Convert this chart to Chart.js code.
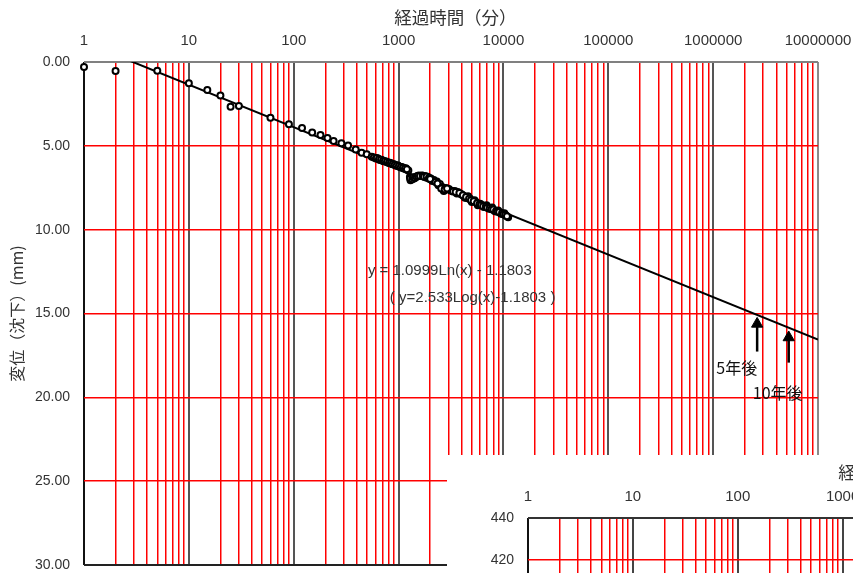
<!DOCTYPE html>
<html>
<head>
<meta charset="utf-8">
<script src="https://cdn.jsdelivr.net/npm/chart.js@4"></script>
<style>
  body { margin: 0; overflow: hidden; background: #fff; }
  #wrap { position: relative; width: 853px; height: 573px; overflow: hidden; }
  #main { position: absolute; left: 0; top: 0; }
  #insetBox { position: absolute; left: 447px; top: 455px; width: 850px; height: 365px; background: #fff; }
</style>
</head>
<body>
<div id="wrap">
  <canvas id="main" width="853" height="573"></canvas>
  <div id="insetBox"><canvas id="inset" width="850" height="365"></canvas></div>
</div>
<script>
// decade labels on the log time axis (minutes)
const decadeValues = [1, 10, 100, 1000, 10000, 100000, 1000000, 10000000];
const decadeLabels = ['1', '10', '100', '1000', '10000', '100000', '1000000', '10000000'];

// measured settlement: elapsed time (min) and displacement (mm)
const elapsedMin = [
  1, 2, 5, 10, 15, 20, 25, 30, 60, 90,
  120, 150, 180, 210, 240, 285, 330, 390, 444, 497, 555,
  581, 608, 635, 663, 693, 724, 757, 791, 826, 863, 902, 942, 985, 1029, 1075, 1124, 1174,
  1240,
  1282, 1300, 1330, 1368, 1400, 1461, 1500, 1562, 1668, 1782, 1903, 2032, 2100, 2172, 2318, 2400,
  2477, 2600, 2645, 2700, 2825, 3017, 3100, 3222, 3441, 3600, 3675, 3925, 4000, 4191, 4300, 4477,
  4600, 4782, 5000, 5106, 5300, 5454, 5700, 5824, 6000, 6220, 6500, 6643, 6900, 7094, 7300, 7577,
  7800, 8092, 8300, 8642, 8900, 9230, 9500, 9857, 10200, 10527, 11100,
  620, 650, 680, 710, 740, 775, 810, 845, 880, 920, 960, 1005, 1050, 1100, 1150, 1200,
  1290, 1350, 1380, 1430, 1480, 1530, 1600, 1700, 1750, 1850, 1950, 2000, 2250, 2350, 2550, 2750,
  2900, 3300, 3500, 3800, 4100, 4400, 4700, 4900, 5200, 5600, 5900, 6100, 6400, 6800, 7000, 7400,
  7700, 8000, 8500, 8800, 9100, 9700, 10000, 10400, 10800
];
const settlementMm = [
  0.30, 0.54, 0.52, 1.27, 1.67, 2.00, 2.67, 2.62, 3.32, 3.72,
  3.94, 4.20, 4.35, 4.53, 4.71, 4.85, 4.98, 5.22, 5.41, 5.50, 5.65,
  5.69, 5.76, 5.75, 5.84, 5.85, 5.92, 5.93, 6.00, 6.01, 6.09, 6.10, 6.17, 6.18, 6.25, 6.26, 6.33, 6.34,
  6.47,
  6.86, 7.05, 6.90, 6.95, 6.95, 6.86, 6.82, 6.77, 6.77, 6.80, 6.86, 6.95, 7.10, 7.04, 7.13, 7.35,
  7.27, 7.45, 7.57, 7.70, 7.51, 7.57, 7.65, 7.69, 7.69, 7.85, 7.75, 7.87, 7.90, 7.99, 8.10, 8.11,
  8.00, 8.14, 8.35, 8.29, 8.25, 8.35, 8.55, 8.47, 8.45, 8.53, 8.65, 8.59, 8.55, 8.68, 8.75, 8.74,
  8.68, 8.83, 8.90, 8.91, 8.85, 8.97, 9.05, 9.06, 9.02, 9.15, 9.26,
  5.72, 5.80, 5.83, 5.90, 5.92, 5.97, 6.02, 6.04, 6.10, 6.13, 6.17, 6.22, 6.27, 6.30, 6.35, 6.40,
  6.95, 7.00, 6.88, 6.92, 6.85, 6.80, 6.80, 6.78, 6.84, 6.83, 6.90, 6.98, 7.15, 7.25, 7.55, 7.60,
  7.55, 7.72, 7.75, 7.82, 7.95, 8.05, 8.15, 8.25, 8.30, 8.42, 8.50, 8.55, 8.60, 8.62, 8.70, 8.72,
  8.78, 8.80, 8.88, 8.92, 8.95, 9.02, 9.08, 9.12, 9.20
];

// fitted line y = 1.0999 ln(x) - 1.1803, end points
const trendX = [1, 10000000];
const trendY = [-1.18, 16.55];

// 5 and 10 years after (min), arrow tail / head displacement
const arrowX = [2628000, 5256000];
const arrowTail = [17.27, 17.93];
const arrowHead = [15.62, 16.43];
const arrowText = ['5年後', '10年後'];

const gridValues = [];
decadeValues.slice(0, -1).forEach(d => {
  for (let m = 1; m <= 9; m++) gridValues.push(m * d);
});
gridValues.push(10000000);

const isDecade = v => decadeValues.some(d => Math.abs(d - v) < 1e-6 * d);
const xFont = { family: "'Liberation Sans', Arial, sans-serif", size: 15 };
const yFont = { family: "'Liberation Sans', Arial, sans-serif", size: 14 };
const jpFont = { family: "'Noto Sans CJK JP', sans-serif", size: 16 };
const titleFont = { family: "'Noto Sans CJK JP', sans-serif", size: 17.5 };

function xGridColor(ctx) {
  const v = ctx.tick.value;
  if (v === 1) return '#111';
  if (v === 10000000) return '#8a8a8a';
  return isDecade(v) ? '#555' : '#ff0000';
}
function xGridWidth(ctx) {
  return isDecade(ctx.tick.value) ? 2 : 1.5;
}
function decadeLabel(v) {
  const k = decadeValues.findIndex(d => Math.abs(d - v) < 1e-6 * d);
  return k >= 0 ? decadeLabels[k] : '';
}
// keep chart area fixed, labels may overhang
const noPadX = h => s => { s.height = h; s.paddingLeft = 0; s.paddingRight = 0; };
const noPadY = w => s => { s.width = w; s.paddingTop = 0; s.paddingBottom = 0; };

const textPlugin = {
  id: 'notes',
  afterDatasetsDraw(chart) {
    const { ctx, scales: { x, y } } = chart;
    ctx.save();
    ctx.font = "15px 'Liberation Sans', Arial, sans-serif";
    ctx.fillStyle = '#333';
    ctx.textBaseline = 'middle';
    ctx.textAlign = 'left';
    ctx.fillText('y = 1.0999Ln(x) - 1.1803', x.getPixelForValue(510), y.getPixelForValue(12.46));
    ctx.fillText('( y=2.533Log(x)-1.1803 )', x.getPixelForValue(826), y.getPixelForValue(14.07));
    ctx.font = "16px 'Noto Sans CJK JP', sans-serif";
    ctx.fillStyle = '#111';
    ctx.textAlign = 'center';
    ctx.fillText(arrowText[0], x.getPixelForValue(1680000), y.getPixelForValue(18.25));
    ctx.fillText(arrowText[1], x.getPixelForValue(4130000), y.getPixelForValue(19.74));
    ctx.restore();
  }
};

const arrowSets = arrowX.map((ax, i) => ({
  type: 'line',
  data: [{ x: ax, y: arrowTail[i] }, { x: ax, y: arrowHead[i] }],
  borderColor: '#000',
  borderWidth: 2.5,
  pointStyle: 'triangle',
  pointRadius: [0, 6.5],
  pointBackgroundColor: '#000',
  pointBorderColor: '#000',
  pointBorderWidth: 1,
  order: 0
}));

new Chart(document.getElementById('main'), {
  type: 'scatter',
  data: {
    datasets: [
      {
        data: elapsedMin.map((t, i) => ({ x: t, y: settlementMm[i] })),
        pointStyle: 'circle',
        pointRadius: 3,
        pointBorderWidth: 2,
        pointBorderColor: '#000',
        pointBackgroundColor: '#fff',
        clip: false,
        order: 1
      },
      {
        type: 'line',
        data: trendX.map((t, i) => ({ x: t, y: trendY[i] })),
        borderColor: '#000',
        borderWidth: 2,
        pointRadius: 0,
        order: 2
      },
      ...arrowSets
    ]
  },
  options: {
    responsive: false,
    animation: false,
    layout: { padding: { left: 0, right: 35, top: 0, bottom: 8 } },
    plugins: { legend: { display: false }, tooltip: { enabled: false } },
    scales: {
      x: {
        type: 'logarithmic',
        position: 'top',
        min: 1,
        max: 10000000,
        afterBuildTicks: s => { s.ticks = gridValues.map(v => ({ value: v })); },
        afterFit: noPadX(62),
        grid: { color: xGridColor, lineWidth: xGridWidth, drawTicks: false },
        border: { display: false },
        ticks: { autoSkip: false, maxRotation: 0, padding: 12, color: '#333', font: xFont, callback: decadeLabel },
        title: { display: true, text: '\u2002経過時間（分）', color: '#333', font: titleFont, padding: { top: 7, bottom: 0 } }
      },
      y: {
        reverse: true,
        min: 0,
        max: 30,
        afterFit: noPadY(84),
        grid: {
          drawTicks: false,
          color: ctx => ctx.tick.value === 0 ? '#808080' : (ctx.tick.value === 30 ? '#222' : '#ff0000'),
          lineWidth: ctx => (ctx.tick.value === 0 || ctx.tick.value === 30) ? 2 : 1.5
        },
        border: { display: false },
        ticks: { stepSize: 5, padding: 14, color: '#333', font: yFont, callback: v => v.toFixed(2) },
        title: { display: true, text: '変位（沈下）(mm)', color: '#333', font: jpFont, padding: { top: 7, bottom: 4 } }
      }
    }
  },
  plugins: [textPlugin]
});

// second (lower) chart, only its top-left corner is visible
const insetYTicks = [300, 320, 340, 360, 380, 400, 420, 440];
new Chart(document.getElementById('inset'), {
  type: 'scatter',
  data: { datasets: [{ data: [] }] },
  options: {
    responsive: false,
    animation: false,
    layout: { padding: { left: 0, right: 35, top: 0, bottom: 8 } },
    plugins: { legend: { display: false }, tooltip: { enabled: false } },
    scales: {
      x: {
        type: 'logarithmic',
        position: 'top',
        min: 1,
        max: 10000000,
        afterBuildTicks: s => { s.ticks = gridValues.map(v => ({ value: v })); },
        afterFit: noPadX(63),
        grid: { color: ctx => ctx.tick.value === 1 ? '#111' : (isDecade(ctx.tick.value) ? '#444' : '#ff0000'), lineWidth: xGridWidth, drawTicks: false },
        border: { display: false },
        ticks: { autoSkip: false, maxRotation: 0, padding: 12, color: '#333', font: xFont, callback: decadeLabel },
        title: { display: true, text: '\u2002経過時間（分）', color: '#333', font: titleFont, padding: { top: 7, bottom: 0 } }
      },
      y: {
        min: insetYTicks[0],
        max: insetYTicks[insetYTicks.length - 1],
        afterFit: noPadY(81),
        grid: {
          drawTicks: false,
          color: ctx => ctx.tick.value === 440 ? '#333' : '#ff0000',
          lineWidth: ctx => ctx.tick.value === 440 ? 2 : 1.5
        },
        border: { display: false },
        ticks: { stepSize: 20, padding: 14, color: '#333', font: yFont }
      }
    }
  }
});
</script>
</body>
</html>
